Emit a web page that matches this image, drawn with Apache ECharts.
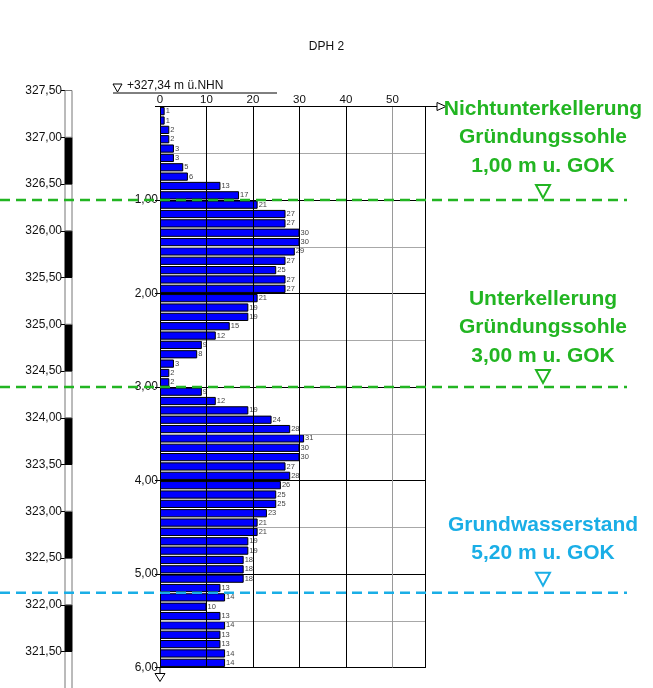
<!DOCTYPE html>
<html><head><meta charset="utf-8">
<script src="https://cdn.jsdelivr.net/npm/echarts@6/dist/echarts.min.js"></script>
<style>html,body{margin:0;padding:0;background:#fff}#c{width:653px;height:688px}</style>
</head><body><div id="c"></div>
<script>
// ---- data ----
const depthCategories = ['0,1','0,2','0,3','0,4','0,5','0,6','0,7','0,8','0,9','1,0',
  '1,1','1,2','1,3','1,4','1,5','1,6','1,7','1,8','1,9','2,0',
  '2,1','2,2','2,3','2,4','2,5','2,6','2,7','2,8','2,9','3,0',
  '3,1','3,2','3,3','3,4','3,5','3,6','3,7','3,8','3,9','4,0',
  '4,1','4,2','4,3','4,4','4,5','4,6','4,7','4,8','4,9','5,0',
  '5,1','5,2','5,3','5,4','5,5','5,6','5,7','5,8','5,9','6,0'];
const blowsN10 = [1,1,2,2,3,3,5,6,13,17,
  21,27,27,30,30,29,27,25,27,27,
  21,19,19,15,12,9,8,3,2,2,
  9,12,19,24,28,31,30,30,27,28,
  26,25,25,23,21,21,19,19,18,18,
  18,13,14,10,13,14,13,13,14,14];
const blowTicks = [0,10,20,30,40,50];
const depthTicks = [1,2,3,4,5,6];
const elevationTop = 327.5;
const elevationBreaks = [321.0,321.5,322.0,322.5,323.0,323.5,324.0,324.5,325.0,325.5,326.0,326.5,327.0,327.5];
const groundElevation = 327.34;
const title = 'DPH 2';
const annotations = [
  {depth: 1.0, lines: ['Nichtunterkellerung','Gründungssohle','1,00 m u. GOK'], kind: 'found'},
  {depth: 3.0, lines: ['Unterkellerung','Gründungssohle','3,00 m u. GOK'], kind: 'found'},
  {depth: 5.2, lines: ['Grundwasserstand','5,20 m u. GOK'], kind: 'water'}
];

// ---- layout ----
const textOffsets = [-34, -31, -39];
const triOffsets = [-15, -17, -20];
const GREEN = '#22b522', CYAN = '#1aaee6';
const FONT = "'Liberation Sans', Arial, sans-serif";
const PX_PER_M = 93.5;
const COL_TOP = 90.5, COL_H = 688 - 90.5;

const chart = echarts.init(document.getElementById('c'), null, {renderer: 'canvas'});
const comma2 = v => v.toFixed(2).replace('.', ',');

chart.setOption({
  animation: false,
  backgroundColor: '#fff',
  textStyle: {fontFamily: FONT},
  grid: [
    {left: 160, top: 106.5, width: 265, height: 561},
    {left: 65, top: COL_TOP, width: 7, height: COL_H}
  ],
  xAxis: [
    {gridIndex: 0, type: 'value', position: 'top', min: 0, max: 57, interval: 10, z: 3,
     axisLine: {show: true, lineStyle: {color: '#000', width: 1}},
     axisTick: {show: false},
     axisLabel: {color: '#111', fontSize: 11.5, margin: 1, showMaxLabel: false,
       formatter: v => blowTicks.includes(v) ? String(v) : ''},
     splitLine: {show: true, lineStyle: {color: ['#000','#000','#000','#000','#000','#9a9a9a','#000'], width: 1}}},
    {gridIndex: 1, type: 'value', min: 0, max: 1, show: false}
  ],
  yAxis: [
    {gridIndex: 0, type: 'category', data: depthCategories, inverse: true, show: false},
    {gridIndex: 0, type: 'value', min: 0, max: 6, interval: 1, inverse: true, position: 'left', z: 3,
     axisLine: {show: true, lineStyle: {color: '#000'}},
     axisTick: {show: true, length: 5, lineStyle: {color: '#000'}},
     axisLabel: {color: '#111', fontSize: 12, margin: 2,
       formatter: v => depthTicks.includes(v) ? comma2(v) : ''},
     splitLine: {show: false}},
    {gridIndex: 0, type: 'value', min: 0, max: 6, interval: 0.5, inverse: true, position: 'right', z: 3,
     axisLine: {show: true, lineStyle: {color: '#000'}},
     axisTick: {show: false}, axisLabel: {show: false},
     splitLine: {show: true, lineStyle: {color: ['#000', '#a8a8a8'], width: 1}}},
    // elevation ruler: values are metres below elevationTop, labelled as elevation
    {gridIndex: 1, type: 'value', min: 0, max: COL_H / PX_PER_M, interval: 0.5, inverse: true, position: 'left',
     axisLine: {show: false},
     axisTick: {show: true, length: 4, lineStyle: {color: '#000'}},
     axisLabel: {color: '#111', fontSize: 12, margin: 3, showMaxLabel: false,
       formatter: v => comma2(elevationTop - v)},
     splitLine: {show: false}}
  ],
  series: [
    {type: 'bar', xAxisIndex: 0, yAxisIndex: 0, data: blowsN10, barCategoryGap: '12%',
     itemStyle: {color: '#0000ff', borderColor: '#000', borderWidth: 1},
     label: {show: true, position: 'right', distance: 1, fontSize: 7.5, color: '#444'}},
    {type: 'custom', xAxisIndex: 1, yAxisIndex: 3,
     data: elevationBreaks.slice(0, -1).map((b, i) => [b, elevationBreaks[i + 1]]),
     renderItem: (params, api) => {
       const a = api.coord([0, elevationTop - api.value(1)]);
       const b = api.coord([1, elevationTop - api.value(0)]);
       const dark = params.dataIndex % 2 === 1;
       return {type: 'rect', shape: {x: a[0], y: a[1], width: b[0] - a[0], height: b[1] - a[1]},
         style: {fill: dark ? '#000' : '#fff', stroke: dark ? '#000' : '#777', lineWidth: 1}};
     }}
  ]
});

// ---- decorations placed through the scales ----
const px = (x, d) => chart.convertToPixel({xAxisIndex: 0, yAxisIndex: 1}, [x, d]);
const top0 = px(0, 0), topMax = px(57, 0), bot = px(0, 6);
const g = [];
g.push({type: 'text', left: 'center', top: 41, style: {text: title, fontSize: 12, fontFamily: FONT, fill: '#111'}});
// ground level annotation
const uy = top0[1] - 13.5;
g.push({type: 'line', shape: {x1: 113, y1: uy, x2: 277, y2: uy}, style: {stroke: '#000', lineWidth: 1}});
g.push({type: 'polygon', shape: {points: [[113, uy - 9], [122, uy - 9], [117.5, uy - 1]]}, style: {fill: 'none', stroke: '#000', lineWidth: 1}});
g.push({type: 'text', x: 127, y: uy - 1, style: {text: '+' + comma2(groundElevation) + ' m ü.NHN', fontSize: 12, fontFamily: FONT, fill: '#111', textVerticalAlign: 'bottom'}});
// axis extension + arrow
g.push({type: 'line', shape: {x1: topMax[0], y1: top0[1], x2: 437, y2: top0[1]}, style: {stroke: '#000', lineWidth: 1}});
g.push({type: 'polygon', shape: {points: [[437, top0[1] - 4], [446, top0[1]], [437, top0[1] + 4]]}, style: {fill: '#fff', stroke: '#000', lineWidth: 1}});
// bottom marker
g.push({type: 'polygon', shape: {points: [[bot[0] - 5, bot[1] + 6], [bot[0] + 5, bot[1] + 6], [bot[0], bot[1] + 14]]}, style: {fill: 'none', stroke: '#000', lineWidth: 1}});
g.push({type: 'line', shape: {x1: bot[0], y1: bot[1], x2: bot[0], y2: bot[1] + 6}, style: {stroke: '#000', lineWidth: 1}});
// annotations
annotations.forEach((a, k) => {
  const y = px(0, a.depth)[1];
  const col = a.kind === 'water' ? CYAN : GREEN;
  g.push({type: 'line', z: 50, shape: {x1: 0, y1: y, x2: 627, y2: y}, style: {stroke: col, lineWidth: 2.5, lineDash: [10, 6]}});
  const cx = 543;
  const t0 = y + triOffsets[k];
  g.push({type: 'polygon', z: 50, shape: {points: [[cx - 7, t0], [cx + 7, t0], [cx, t0 + 13]]}, style: {fill: 'none', stroke: col, lineWidth: 2}});
  const n = a.lines.length;
  a.lines.forEach((t, i) => {
    const ty = y + textOffsets[k] - (n - 1 - i) * 28.5;
    g.push({type: 'text', z: 50, x: cx, y: ty, style: {text: t, fontSize: 21, fontWeight: 'bold', fontFamily: FONT, fill: col, textAlign: 'center', textVerticalAlign: 'middle'}});
  });
});
chart.setOption({graphic: g});
</script>
</body></html>
